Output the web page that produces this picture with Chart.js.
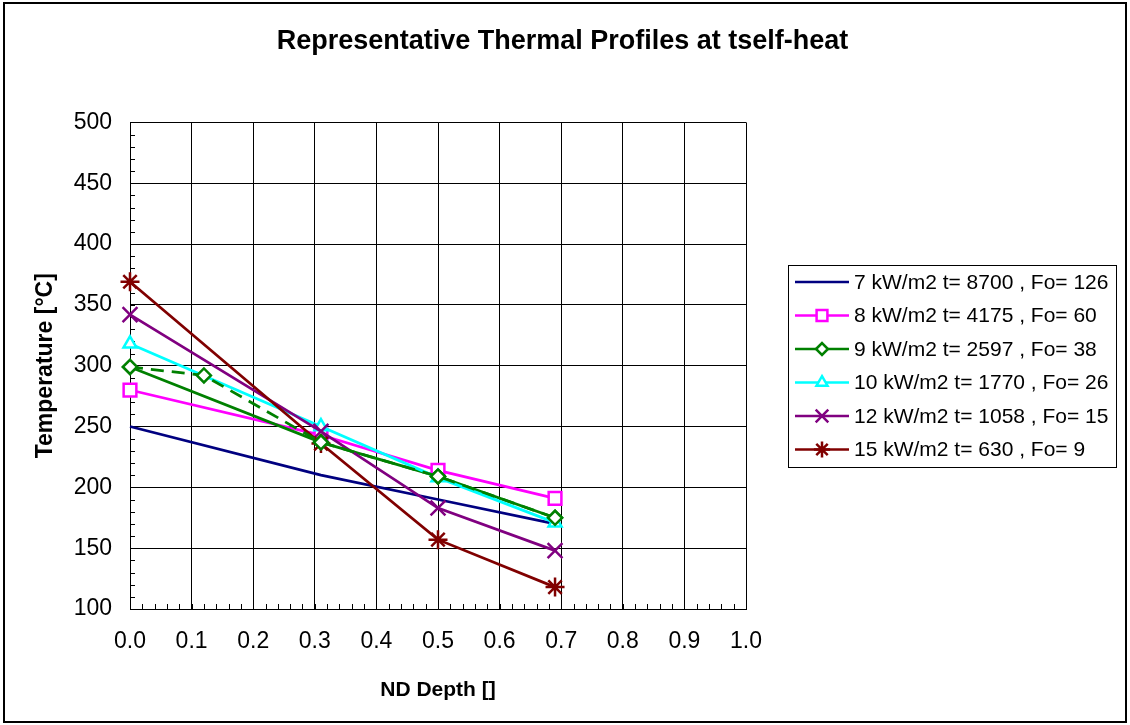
<!DOCTYPE html>
<html>
<head>
<meta charset="utf-8">
<script src="https://cdn.jsdelivr.net/npm/chart.js@4/dist/chart.umd.min.js"></script>
<style>
  html, body { margin: 0; padding: 0; background: #fff; }
</style>
</head>
<body>
<canvas id="thermal-chart" width="1130" height="725"></canvas>
<script>
  // depth positions of the thermocouples
  var depth = [0, 0.31, 0.5, 0.69];
  var depthExtra = [0, 0.12, 0.31, 0.5, 0.69];

  var seriesLabels = [
    '7 kW/m2 t= 8700 , Fo= 126',
    '8 kW/m2 t= 4175 , Fo= 60',
    '9 kW/m2 t= 2597 , Fo= 38',
    '10 kW/m2 t= 1770 , Fo= 26',
    '12 kW/m2 t= 1058 , Fo= 15',
    '15 kW/m2 t= 630 , Fo= 9'
  ];

  var temp7 = [250, 210, 190, 170];
  var temp8 = [280, 243, 214, 191];
  var temp9 = [299, 237, 209, 175];
  var temp9b = [299, 292, 237, 209, 175];   // dashed, not in legend
  var temp10 = [318, 250, 208, 171];
  var temp12 = [342, 246, 183, 148];
  var temp15 = [369, 236, 157, 118];

  var xMin = 0, xMax = 1, xStep = 0.1;
  var yMin = 100, yMax = 500, yStep = 50;

  var FONT = '"Liberation Sans", Arial, sans-serif';

  var toPoints = function (xs, ys) {
    return xs.map(function (x, i) { return { x: x, y: ys[i] }; });
  };

  var makeSet = function (label, xs, ys, color, style, radius, order) {
    return {
      label: label,
      data: toPoints(xs, ys),
      borderColor: color,
      backgroundColor: '#fff',
      borderWidth: 2.75,
      pointStyle: style,
      pointRadius: style ? radius : 0,
      pointBorderColor: color,
      pointBackgroundColor: '#fff',
      pointBorderWidth: 2.5,
      clip: false,
      order: order
    };
  };

  var datasets = [
    makeSet(seriesLabels[0], depth, temp7, '#000080', false, 0, 7),
    makeSet(seriesLabels[1], depth, temp8, '#ff00ff', 'rect', 9, 6),
    makeSet(seriesLabels[2], depth, temp9, '#008000', 'rectRot', 7, 5),
    makeSet(seriesLabels[3], depth, temp10, '#00ffff', 'triangle', 7.5, 4),
    makeSet(seriesLabels[4], depth, temp12, '#800080', 'crossRot', 10.5, 3),
    makeSet(seriesLabels[5], depth, temp15, '#800000', 'star', 9.5, 2)
  ];
  var dashed = makeSet('', depthExtra, temp9b, '#008000', 'rectRot', 7, 1);
  dashed.borderDash = [13, 8];
  dashed.inLegend = false;
  datasets.push(dashed);

  // white page with the outer frame
  var framePlugin = {
    id: 'frame',
    beforeDraw: function (chart) {
      var ctx = chart.ctx;
      ctx.save();
      ctx.fillStyle = '#fff';
      ctx.fillRect(0, 0, chart.width, chart.height);
      ctx.strokeStyle = '#000';
      ctx.lineWidth = 2;
      ctx.strokeRect(4, 3, chart.width - 8, chart.height - 6);
      ctx.restore();
    }
  };

  // minor tick marks inside the plot area
  var minorTicks = {
    id: 'minorTicks',
    beforeDatasetsDraw: function (chart) {
      var ctx = chart.ctx, a = chart.chartArea;
      var xs = chart.scales.x, ys = chart.scales.y;
      ctx.save();
      ctx.strokeStyle = '#000';
      ctx.lineWidth = 1;
      ctx.beginPath();
      for (var v = yMin; v <= yMax; v += 10) {
        var py = Math.round(ys.getPixelForValue(v)) + 0.5;
        ctx.moveTo(a.left, py);
        ctx.lineTo(a.left + 5, py);
      }
      for (var i = 0; i <= 50; i++) {
        var px = Math.round(xs.getPixelForValue(i * 0.02)) + 0.5;
        ctx.moveTo(px, a.bottom);
        ctx.lineTo(px, a.bottom - 5);
      }
      ctx.stroke();
      ctx.restore();
    }
  };

  // excel style legend box on the right
  var boxLegend = {
    id: 'boxLegend',
    afterDraw: function (chart) {
      var ctx = chart.ctx;
      var left = 788, top = 265, w = 328, h = 202;
      ctx.save();
      ctx.strokeStyle = '#000';
      ctx.lineWidth = 1;
      ctx.strokeRect(left + 0.5, top + 0.5, w, h);
      ctx.font = '21px ' + FONT;
      ctx.textBaseline = 'middle';
      ctx.textAlign = 'left';
      chart.data.datasets.forEach(function (ds, i) {
        if (ds.inLegend === false) return;
        var y = 282 + i * 33.5;
        ctx.strokeStyle = ds.borderColor;
        ctx.lineWidth = 2.5;
        ctx.setLineDash([]);
        ctx.beginPath();
        ctx.moveTo(795, y);
        ctx.lineTo(849, y);
        ctx.stroke();
        if (ds.pointStyle) {
          ctx.fillStyle = '#fff';
          ctx.strokeStyle = ds.borderColor;
          ctx.lineWidth = 2.5;
          Chart.helpers.drawPoint(ctx, {
            pointStyle: ds.pointStyle,
            radius: ds.pointRadius * 0.85,
            borderWidth: 2.5,
            rotation: 0
          }, 822, y);
        }
        ctx.fillStyle = '#000';
        ctx.fillText(ds.label, 854, y + 1);
      });
      ctx.restore();
    }
  };

  var config = {
    type: 'line',
    data: { datasets: datasets },
    options: {
      responsive: false,
      animation: false,
      layout: {
        padding: { left: 15, right: 20, top: 0, bottom: 12 }
      },
      plugins: {
        legend: { display: false },
        tooltip: { enabled: false },
        title: {
          display: true,
          text: 'Representative Thermal Profiles at tself-heat',
          color: '#000',
          font: { family: FONT, size: 27, weight: 'bold' },
          padding: { top: 25, bottom: 65 }
        }
      },
      scales: {
        x: {
          type: 'linear',
          min: xMin,
          max: xMax,
          afterFit: function (s) { s.height = 104; },
          ticks: {
            stepSize: xStep,
            padding: 19,
            color: '#000',
            font: { family: FONT, size: 23 },
            callback: function (v) { return v.toFixed(1); }
          },
          grid: { color: '#000', lineWidth: 1, drawTicks: false },
          border: { color: '#000', width: 1 },
          title: {
            display: true,
            text: 'ND Depth []',
            color: '#000',
            font: { family: FONT, size: 21, weight: 'bold' },
            padding: { top: 4, bottom: 10 }
          }
        },
        y: {
          type: 'linear',
          min: yMin,
          max: yMax,
          afterFit: function (s) { s.width = 115; },
          ticks: {
            stepSize: yStep,
            padding: 18,
            color: '#000',
            font: { family: FONT, size: 23 }
          },
          grid: { color: '#000', lineWidth: 1, drawTicks: false },
          border: { color: '#000', width: 1 },
          title: {
            display: true,
            text: 'Temperature [°C]',
            color: '#000',
            font: { family: FONT, size: 23, weight: 'bold' },
            padding: { top: 17, bottom: 4 }
          }
        },
        // empty scale that keeps room for the legend box
        spacer: {
          type: 'linear',
          position: 'right',
          display: true,
          afterFit: function (s) { s.width = 364; },
          ticks: { display: false },
          grid: { display: false, drawTicks: false },
          border: { display: false }
        }
      }
    },
    plugins: [framePlugin, minorTicks, boxLegend]
  };

  window.onload = function () {
    var ctx = document.getElementById('thermal-chart').getContext('2d');
    window.thermalChart = new Chart(ctx, config);
  };
</script>
</body>
</html>
